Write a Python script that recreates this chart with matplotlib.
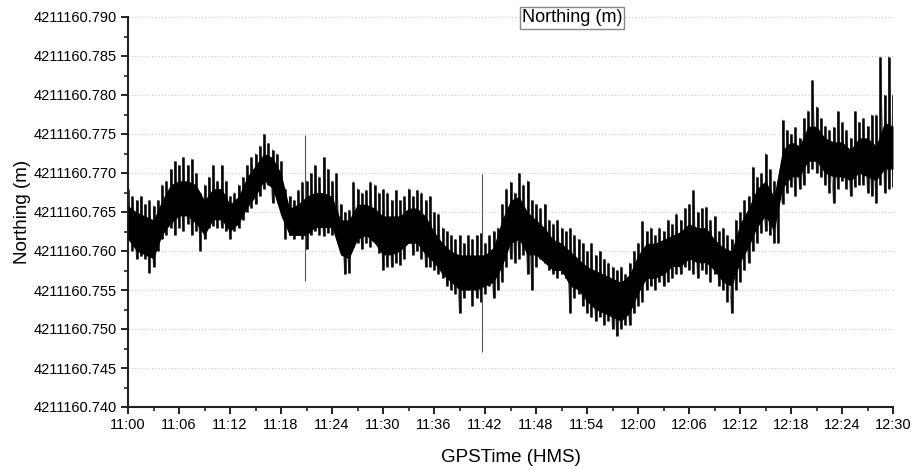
import numpy as np
import matplotlib
matplotlib.use("Agg")
import matplotlib.pyplot as plt
from matplotlib.ticker import MultipleLocator, FormatStrFormatter

plt.rcParams["font.family"] = ["Liberation Sans", "DejaVu Sans"]

# Northing readings, stored in millimetres above 4211160.700 m
BASE_M = 4211160.700

# half-minute sampling from 11:00 to 12:30 (minutes after 11:00)
minutes_half = np.arange(0, 90.5, 0.5)

# spike tips (max) and spike bottoms (min) in each half-minute
peak_mm = [
    68.0, 67.0, 66.5, 67.0, 66.0, 66.5, 65.8, 66.5, 68.5, 69.0,
    70.5, 71.5, 71.0, 72.0, 71.0, 71.8, 70.0, 67.5, 68.5, 69.5,
    71.0, 69.0, 71.0, 69.0, 67.0, 67.5, 68.5, 69.5, 71.0, 72.0,
    72.5, 73.5, 75.0, 73.8, 73.0, 72.5, 71.5, 68.0, 67.0, 66.5,
    67.8, 68.9, 69.0, 70.0, 71.0, 69.5, 72.0, 70.5, 69.0, 70.0,
    66.0, 65.0, 65.3, 68.9, 68.0, 67.5, 67.8, 68.9, 68.5, 67.5,
    67.9, 67.5, 66.5, 67.8, 66.5, 67.0, 68.0, 67.0, 67.8, 67.5,
    66.5, 67.0, 65.0, 64.8, 63.0, 62.5, 62.0, 61.5, 62.0, 61.0,
    62.0, 61.5, 62.0, 62.3, 61.0, 62.0, 62.5, 63.0, 66.0, 68.0,
    68.9, 67.5, 70.0, 68.5, 69.0, 66.5, 66.0, 65.5, 66.0, 64.0,
    63.5, 64.0, 63.0, 62.5, 63.0, 62.0, 61.5, 61.0, 60.0, 61.0,
    59.5, 60.0, 59.0, 58.5, 58.0, 57.5, 58.0, 57.0, 58.5, 60.0,
    61.0, 63.8, 62.5, 63.0, 62.0, 63.0, 62.5, 64.0, 63.5, 64.8,
    64.0, 65.5, 66.0, 67.8, 65.0, 65.5, 65.7, 64.0, 64.5, 62.5,
    63.0, 62.0, 61.5, 64.0, 65.0, 66.5, 67.0, 70.8, 69.5, 70.0,
    72.5, 70.5, 69.0, 69.0, 76.8, 75.5, 75.0, 75.9, 74.5, 77.0,
    78.0, 81.9, 78.5, 77.0, 76.0, 75.5, 75.9, 77.9, 76.5, 75.5,
    74.5, 77.9, 76.5, 77.0, 76.0, 77.5, 77.5, 84.9, 80.0, 84.9,
    80.0,
]
trough_mm = [
    61.5, 60.0, 59.0, 59.3, 59.0, 57.2, 58.0, 60.0, 61.5, 62.0,
    63.0, 62.0, 63.0, 62.5, 63.5, 62.0, 62.5, 60.0, 61.5, 63.0,
    63.2, 63.0, 63.0, 62.5, 61.5, 62.5, 63.0, 64.0, 65.0, 65.5,
    66.0, 67.0, 68.0, 68.5, 66.2, 67.5, 66.5, 61.5, 62.0, 61.5,
    62.0, 61.5, 60.2, 62.0, 62.5, 62.0, 61.9, 62.3, 62.0, 63.0,
    60.0, 57.0, 57.2, 60.5, 61.0, 60.2, 61.0, 60.5, 61.4, 59.7,
    57.5, 58.0, 58.0, 58.5, 58.2, 59.0, 61.0, 59.5, 60.0, 59.0,
    58.0, 58.0, 57.5, 57.1, 56.5, 55.5, 55.0, 54.5, 52.0, 54.0,
    55.0, 53.0, 54.0, 53.5, 54.5, 55.5, 54.0, 55.0, 56.0, 58.0,
    59.0, 58.5, 59.0, 59.5, 57.0, 55.0, 58.0, 59.0, 58.5, 57.5,
    57.0, 56.5, 57.0, 56.5, 52.0, 54.0, 54.5, 53.0, 52.0, 51.5,
    51.0, 51.5, 50.5, 51.0, 50.0, 49.1, 50.0, 50.5, 50.5, 52.0,
    53.0, 53.5, 55.0, 55.5, 55.0, 56.0, 55.5, 56.0, 56.5, 57.0,
    57.0, 58.0, 57.5, 57.0, 56.5, 57.5, 57.0, 56.0, 57.0, 55.5,
    55.0, 53.5, 52.0, 55.0, 56.0, 57.5, 58.5, 60.0, 61.0, 62.3,
    62.5, 62.0, 61.0, 61.0, 66.0, 67.5, 68.2, 67.0, 68.0, 68.5,
    70.0, 70.5, 70.0, 69.5, 68.5, 67.5, 66.1, 68.0, 69.0, 68.0,
    67.0, 68.2, 68.5, 68.5, 67.5, 67.0, 66.1, 68.5, 67.5, 68.0,
    68.2,
]

# dense core of the trace, one reading per minute
minutes_full = np.arange(0, 91, 1)
core_top_mm = [
    65.8, 65.0, 64.5, 64.0, 66.5, 68.5, 69.0, 69.0, 68.5, 66.5,
    68.0, 68.0, 66.0, 67.0, 69.5, 71.0, 72.5, 72.0, 70.0, 65.5,
    66.0, 67.0, 67.5, 67.5, 67.0, 64.0, 64.0, 66.0, 66.0, 65.5,
    64.5, 64.5, 64.5, 65.5, 65.5, 64.5, 62.5, 61.0, 60.0, 59.5,
    59.5, 59.5, 59.5, 60.5, 64.0, 66.5, 67.0, 65.0, 64.0, 63.0,
    61.5, 61.0, 60.0, 59.0, 58.0, 57.5, 57.0, 56.5, 56.0, 57.0,
    59.5, 61.0, 61.0, 61.5, 62.0, 62.5, 63.5, 63.0, 63.0, 61.5,
    60.5, 60.0, 63.5, 65.5, 68.0, 69.0, 67.0, 73.0, 74.0, 73.5,
    76.0, 76.0, 74.5, 74.0, 74.0, 73.0, 74.5, 74.5, 73.5, 76.5,
    76.0,
]
core_bottom_mm = [
    61.5, 60.0, 59.5, 59.0, 62.0, 63.5, 64.5, 64.5, 63.5, 62.0,
    64.0, 64.0, 62.5, 63.5, 65.5, 67.0, 69.0, 68.0, 64.5, 62.0,
    62.0, 62.0, 63.0, 63.0, 63.0, 59.5, 59.0, 61.5, 62.0, 61.0,
    59.5, 59.5, 60.0, 61.0, 61.0, 59.5, 58.5, 57.0, 56.0, 55.0,
    55.0, 55.0, 55.5, 56.0, 58.0, 61.0, 61.5, 59.5, 59.5, 58.5,
    57.5, 57.5, 55.5, 55.0, 53.5, 52.5, 52.0, 51.5, 51.0, 52.0,
    54.5, 56.5, 56.5, 57.0, 58.0, 58.0, 59.0, 58.5, 58.5, 57.5,
    56.0, 55.5, 58.5, 60.5, 63.0, 64.5, 62.5, 68.0, 69.5, 69.5,
    71.5, 71.5, 70.0, 69.5, 69.5, 69.0, 70.0, 69.5, 69.0, 70.5,
    70.5,
]

# two isolated single-epoch jumps
glitch_minutes = [20.8, 41.7]
glitch_top_mm = [74.9, 69.9]
glitch_bottom_mm = [56.1, 47.1]

time_tick_labels = ["11:00", "11:06", "11:12", "11:18", "11:24", "11:30",
                    "11:36", "11:42", "11:48", "11:54", "12:00", "12:06",
                    "12:12", "12:18", "12:24", "12:30"]


def to_m(mm):
    return BASE_M + np.asarray(mm) / 1000.0


fig = plt.figure(figsize=(9.17, 4.70), dpi=100)
ax = fig.add_axes([128 / 917, 63 / 470, 765 / 917, 390 / 470])

ink = "#000000"
hi = to_m(peak_mm)
lo = to_m(trough_mm)

# noise envelope: one stroke per half-minute from bottom to tip
ax.vlines(minutes_half, lo, hi, color=ink, lw=1.8)
# thin zig-zag joining bottoms and tips
zx = np.repeat(minutes_half, 2)
zy = np.empty(zx.size)
zy[0::2] = lo
zy[1::2] = hi
ax.plot(zx, zy, color=ink, lw=0.6, alpha=0.6)

# solid core of the trace
ax.fill_between(minutes_full, to_m(core_bottom_mm), to_m(core_top_mm),
                color=ink, lw=0, zorder=3)

# isolated jumps
ax.vlines(glitch_minutes, to_m(glitch_bottom_mm), to_m(glitch_top_mm),
          color="#555555", lw=0.8)

ax.set_xlim(0, 90)
ax.set_ylim(4211160.740, 4211160.790)

ax.set_xticks(np.arange(0, 91, 6))
ax.set_xticklabels(time_tick_labels)
ax.xaxis.set_minor_locator(MultipleLocator(3))
ax.yaxis.set_major_locator(MultipleLocator(0.005))
ax.yaxis.set_minor_locator(MultipleLocator(0.0025))
ax.yaxis.set_major_formatter(FormatStrFormatter("%.3f"))

ax.grid(axis="y", which="major", color="#c8c8c8", ls=(0, (1, 2)), lw=0.8)
ax.set_axisbelow(True)

for side in ("top", "right"):
    ax.spines[side].set_visible(False)
for side in ("left", "bottom"):
    ax.spines[side].set_linewidth(1.5)
    ax.spines[side].set_color("#222222")

ax.tick_params(which="major", direction="out", length=5, width=1.4,
               color="#222222", labelsize=10.5, pad=3)
ax.tick_params(which="minor", direction="out", length=3, width=1.2,
               color="#222222")

ax.set_xlabel("GPSTime (HMS)", fontsize=13.5, labelpad=12)
ax.set_ylabel("Northing (m)", fontsize=13.5, labelpad=2)

fig.text(572 / 917, 1 - 18 / 470, "Northing (m)", fontsize=13, ha="center",
         va="center",
         bbox=dict(boxstyle="square,pad=0.12", fc="white", ec="#888888",
                   lw=1.0))

fig.savefig("out.png", dpi=100, facecolor="white")
